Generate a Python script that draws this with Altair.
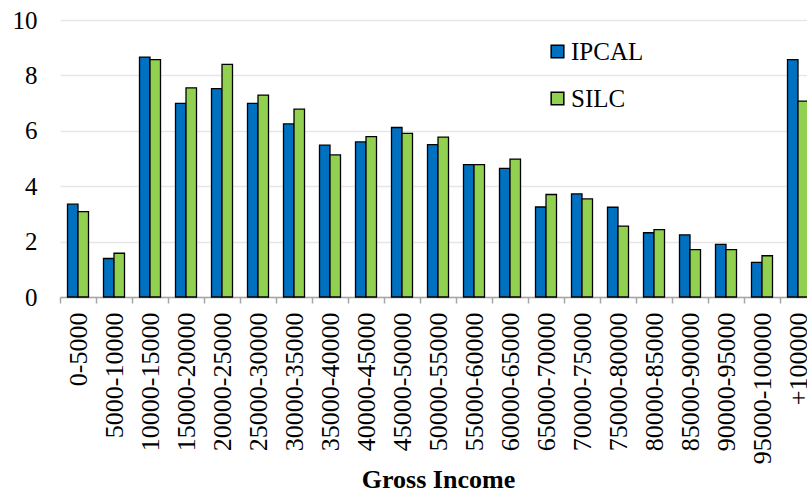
import altair as alt
import pandas as pd

categories = ["0-5000", "5000-10000", "10000-15000", "15000-20000", "20000-25000",
              "25000-30000", "30000-35000", "35000-40000", "40000-45000", "45000-50000",
              "50000-55000", "55000-60000", "60000-65000", "65000-70000", "70000-75000",
              "75000-80000", "80000-85000", "85000-90000", "90000-95000", "95000-100000",
              "+100000"]
ipcal = [3.35, 1.39, 8.66, 6.99, 7.52, 6.99, 6.25, 5.48, 5.60, 6.12, 5.50,
         4.78, 4.64, 3.25, 3.72, 3.24, 2.32, 2.24, 1.90, 1.25, 8.57]
silc = [3.08, 1.58, 8.57, 7.55, 8.40, 7.29, 6.78, 5.13, 5.79, 5.91, 5.77,
        4.78, 4.98, 3.70, 3.54, 2.56, 2.43, 1.71, 1.71, 1.49, 7.07]
series = ["IPCAL", "SILC"]
colors = ["#0070C0", "#92D050"]

rows = []
for c, a, b in zip(categories, ipcal, silc):
    rows.append({"income": c, "series": "IPCAL", "value": a})
    rows.append({"income": c, "series": "SILC", "value": b})
df = pd.DataFrame(rows)

FONT = "Liberation Serif"

chart = alt.Chart(df).mark_bar(stroke="black", strokeWidth=1.3).encode(
    x=alt.X("income:N", sort=categories, title="Gross Income",
            scale=alt.Scale(range=[0, 756], paddingInner=0, paddingOuter=0),
            axis=alt.Axis(labelAngle=270, labelAlign="right", labelBaseline="middle",
                          labelFontSize=26,
                          labelPadding=9, tickBand="extent", tickSize=6,
                          tickColor="#A6A6A6", tickWidth=1.5,
                          domainColor="#A6A6A6", domainWidth=1.5,
                          titleFontSize=26, titleFontWeight="bold",
                          titleBaseline="alphabetic",
                          titleY=190, labelOverlap=False, grid=False)),
    xOffset=alt.XOffset("series:N", sort=series,
                        scale=alt.Scale(paddingInner=0, paddingOuter=0.714)),
    y=alt.Y("value:Q", title=None,
            scale=alt.Scale(domain=[0, 10], nice=False),
            axis=alt.Axis(values=[0, 2, 4, 6, 8, 10], labelFontSize=25,
                          labelPadding=23, ticks=False, domain=False,
                          gridColor="#E6E6E6", gridWidth=1.5)),
    color=alt.Color("series:N", sort=series,
                    scale=alt.Scale(domain=series, range=colors),
                    legend=alt.Legend(title=None, orient="none", legendX=485, legendY=19,
                                      symbolType="square", symbolSize=160,
                                      symbolStrokeColor="black", symbolStrokeWidth=1.5,
                                      labelOffset=1, rowPadding=21, padding=0)),
).properties(
    width=747, height=277,
    autosize=alt.AutoSizeParams(type="none"),
    padding={"left": 60, "top": 20, "right": 0, "bottom": 197},
).configure(
    background="white", font=FONT
).configure_view(stroke=None).configure_axis(
    labelFont=FONT, labelColor="black",
    titleFont=FONT, titleColor="black"
).configure_legend(
    labelFont=FONT, labelFontSize=25, labelColor="black"
)

chart.save("out.html", embed_options={"renderer": "svg", "actions": False})
